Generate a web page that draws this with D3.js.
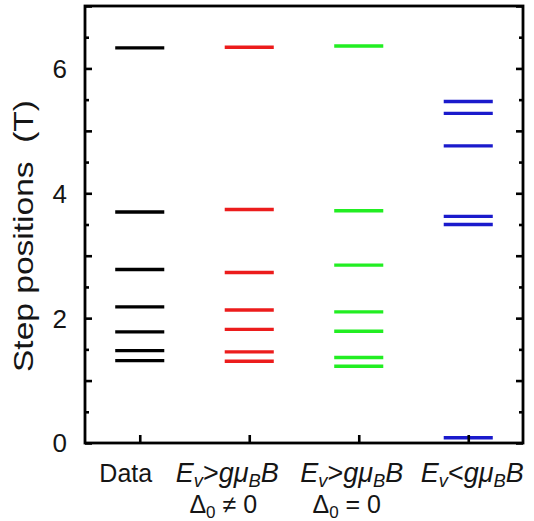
<!DOCTYPE html>
<html>
<head>
<meta charset="utf-8">
<script src="https://cdn.jsdelivr.net/npm/d3@7"></script>
<style>
  html, body { margin: 0; padding: 0; background: #fff; }
  svg { display: block; font-family: "Liberation Sans", Arial, Helvetica, sans-serif; }
</style>
</head>
<body>
<svg id="chart" width="534" height="521"></svg>
<script>
// ---- data ----
const categories = ["data", "gapNonzero", "gapZero", "lowEnergy"];
const dataSteps = [6.33, 3.70, 2.78, 2.18, 1.78, 1.48, 1.32];
const gapNonzeroSteps = [6.34, 3.74, 2.73, 2.13, 1.82, 1.46, 1.31];
const gapZeroSteps = [6.36, 3.72, 2.85, 2.10, 1.79, 1.37, 1.23];
const lowEnergySteps = [5.47, 5.28, 4.76, 3.63, 3.50, 0.085];
const seriesColors = ["#000000", "#ec1c1c", "#22ee22", "#1a1acc"];
const yTickLabels = [0, 2, 4, 6];
const yTitle = "Step positions\u00a0\u00a0(T)";

const seriesSteps = [dataSteps, gapNonzeroSteps, gapZeroSteps, lowEnergySteps];

// ---- layout ----
const plotLeft = 85, plotRight = 523, plotTop = 6, plotBottom = 443;
const svg = d3.select("#chart");

const x = d3.scalePoint().domain(categories).range([plotLeft, plotRight]).padding(0.5);
const y = d3.scaleLinear().domain([0, 7]).range([plotBottom, plotTop]);

// ---- step marks ----
const half = x.step() * 0.224;
const rows = [];
categories.forEach((c, i) => seriesSteps[i].forEach(v => rows.push({c, v, color: seriesColors[i]})));
svg.append("g").selectAll("line").data(rows).join("line")
  .attr("x1", d => x(d.c) - half)
  .attr("x2", d => x(d.c) + half)
  .attr("y1", d => y(d.v))
  .attr("y2", d => y(d.v))
  .attr("stroke", d => d.color)
  .attr("stroke-width", 3.4);

// ---- axes ----
const majorTicks = d3.range(0, 7.01, 1);
const minorTicks = d3.range(0.5, 7, 1);

function yTicks(g, side) {
  const mk = () => side === "left" ? d3.axisRight(y) : d3.axisLeft(y);
  g.append("g").call(mk().tickValues(majorTicks).tickSize(7).tickFormat(""))
    .call(s => s.select(".domain").remove());
  g.append("g").call(mk().tickValues(minorTicks).tickSize(4).tickFormat(""))
    .call(s => s.select(".domain").remove());
  g.selectAll(".tick line").attr("stroke", "#000").attr("stroke-width", 2.6);
}
svg.append("g").attr("transform", `translate(${plotLeft},0)`).call(g => yTicks(g, "left"));
svg.append("g").attr("transform", `translate(${plotRight},0)`).call(g => yTicks(g, "right"));

// bottom category ticks (inward)
svg.append("g").attr("transform", `translate(0,${plotBottom})`)
  .call(d3.axisTop(x).tickSize(8).tickFormat(""))
  .call(s => s.select(".domain").remove())
  .selectAll(".tick line").attr("stroke", "#000").attr("stroke-width", 2.6);

// frame
svg.append("rect")
  .attr("x", plotLeft).attr("y", plotTop)
  .attr("width", plotRight - plotLeft).attr("height", plotBottom - plotTop)
  .attr("fill", "none").attr("stroke", "#000").attr("stroke-width", 2.8);

// y tick labels
svg.append("g").selectAll("text").data(yTickLabels).join("text")
  .attr("x", 67)
  .attr("y", d => y(d))
  .attr("dy", "0.36em")
  .attr("text-anchor", "end")
  .attr("font-size", 26)
  .attr("fill", "#151515")
  .text(d => d);

// y title
svg.append("text")
  .attr("transform", `translate(33,236) rotate(-90)`)
  .attr("text-anchor", "middle")
  .attr("font-size", 28)
  .attr("textLength", 272)
  .attr("lengthAdjust", "spacingAndGlyphs")
  .attr("fill", "#151515")
  .text(yTitle);

// ---- x labels ----
const row1 = 482, row2 = 513;
function addLabel(cx, baseline, fs, parts) {
  const t = svg.append("text")
    .attr("x", cx).attr("y", baseline)
    .attr("text-anchor", "middle")
    .attr("font-size", fs)
    .attr("fill", "#151515");
  parts.forEach(p => {
    const s = t.append("tspan").text(p.t);
    if (p.i) s.attr("font-style", "italic");
    if (p.sub) s.attr("font-size", fs * 0.68).attr("baseline-shift", "-28%");
  });
}
const ineqGreater = [{t: "E", i: 1}, {t: "v", i: 1, sub: 1}, {t: ">"}, {t: "gμ", i: 1}, {t: "B", i: 1, sub: 1}, {t: "B", i: 1}];
const ineqLess = [{t: "E", i: 1}, {t: "v", i: 1, sub: 1}, {t: "<"}, {t: "gμ", i: 1}, {t: "B", i: 1, sub: 1}, {t: "B", i: 1}];

addLabel(x("data") - 14, row1, 25, [{t: "Data"}]);
addLabel(x("gapNonzero") - 22, row1, 27, ineqGreater);
addLabel(x("gapNonzero") - 26, row2, 25, [{t: "Δ"}, {t: "0", sub: 1}, {t: " ≠ 0"}]);
addLabel(x("gapZero") - 7, row1, 27, ineqGreater);
addLabel(x("gapZero") - 12, row2, 25, [{t: "Δ"}, {t: "0", sub: 1}, {t: " = 0"}]);
addLabel(x("lowEnergy") + 4, row1, 27, ineqLess);
</script>
</body>
</html>
